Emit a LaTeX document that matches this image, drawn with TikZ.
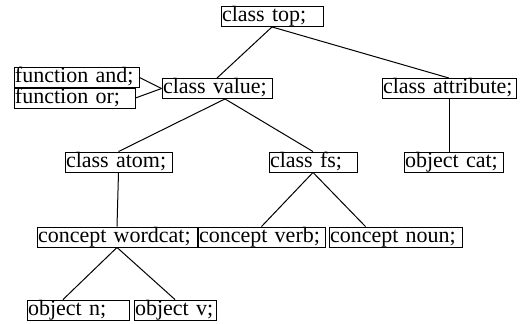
\documentclass[tikz,border=0pt]{standalone}
\usepackage{fontspec}
\setmainfont{Liberation Serif}
\usepackage{tikz}
\usetikzlibrary{positioning,calc}

\begin{document}
\begin{tikzpicture}[x=1pt,y=-1pt,
    kbox/.style={draw, line width=0.9pt, inner xsep=1pt, inner ysep=0pt,
        text height=15pt, text depth=5pt, align=left,
        font=\fontsize{22}{24}\selectfont},
    link/.style={line width=1pt}]
    % Background
    \useasboundingbox (0,0) rectangle (520,324);

    % Top level
    \node[kbox, text width=100pt] (top) at (272,16.5) {class top;};

    % Second level
    \node[kbox, text width=123pt] (fand) at (76.5,77.5) {function and;};
    \node[kbox, text width=119pt] (for) at (74.5,98) {function or;};
    \node[kbox, text width=108pt] (value) at (217,88.5) {class value;};
    \node[kbox, text width=132pt] (attr) at (449,88.5) {class attribute;};

    % Third level
    \node[kbox, text width=105pt] (atom) at (118.5,162) {class atom;};
    \node[kbox, text width=86pt] (fs) at (313,162) {class fs;};
    \node[kbox, text width=97pt] (cat) at (453.5,162) {object cat;};

    % Concepts
    \node[kbox, text width=158pt] (wordcat) at (117,237) {concept wordcat;};
    \node[kbox, text width=125pt] (verb) at (261.5,237) {concept verb;};
    \node[kbox, text width=131pt] (noun) at (395.5,237) {concept noun;};

    % Objects
    \node[kbox, text width=100pt] (objn) at (78,310) {object n;};
    \node[kbox, text width=80pt] (objv) at (175,310) {object v;};

    % Links
    \draw[link] (top.south) -- (value.north);
    \draw[link] (top.south) -- (attr.north);
    \draw[link] (fand.east) -- (value.west);
    \draw[link] (for.east) -- (value.west);
    \draw[link] ([xshift=8pt]value.south) -- (atom.north);
    \draw[link] ([xshift=8pt]value.south) -- (fs.north);
    \draw[link] (attr.south) -- (attr.south |- cat.north);
    \draw[link] (atom.south) -- (wordcat.north);
    \draw[link] (fs.south) -- (verb.north);
    \draw[link] (fs.south) -- ([xshift=-30pt]noun.north);
    \draw[link] (wordcat.south) -- ([xshift=-15pt]objn.north);
    \draw[link] (wordcat.south) -- (objv.north);

\end{tikzpicture}
\end{document}
